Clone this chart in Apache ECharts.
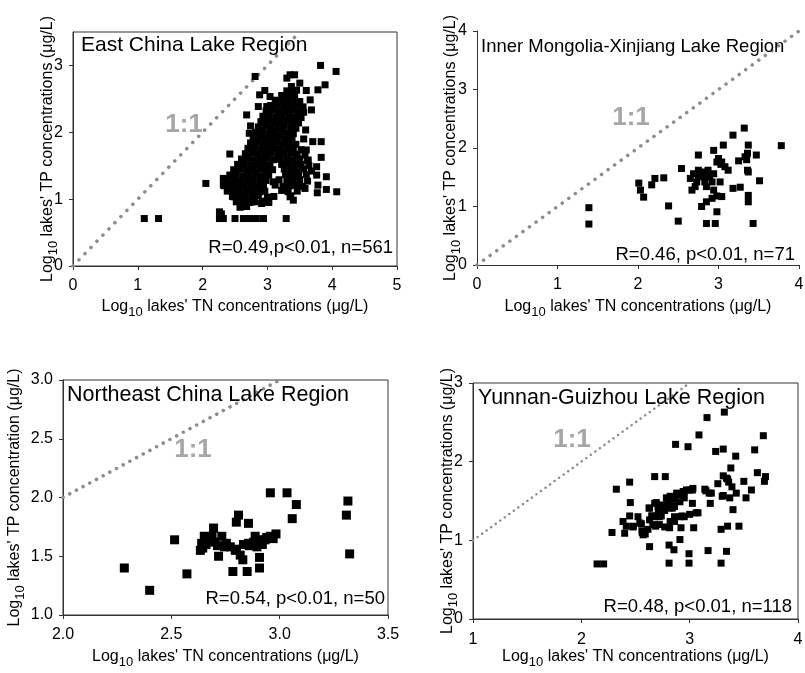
<!DOCTYPE html>
<html>
<head>
<meta charset="utf-8">
<script src="https://cdn.jsdelivr.net/npm/echarts@6/dist/echarts.min.js"></script>
<style>
  html, body { margin: 0; padding: 0; background: #fff; }
  #chart { width: 805px; height: 673px; }
</style>
</head>
<body>
<div id="chart"></div>
<script>
// [log10 TN, log10 TP]

// East China Lake Region, n=561 (many points overlap in the core)
var eastPts = [
  [1.10,0.71],[1.32,0.71],[2.05,1.235],[2.26,0.81],[2.26,0.71],[2.32,0.71],[2.50,0.71],[2.63,0.71],
  [2.73,0.71],[2.83,0.71],[2.94,0.71],[3.29,0.71],[2.42,1.675],[2.32,1.31],[2.32,1.21],[2.68,2.26],
  [2.81,2.835],[2.88,2.56],[2.96,2.625],[3.04,2.535],[2.86,2.385],[2.99,2.385],[2.74,2.095],[2.72,1.985],
  [3.30,2.81],[3.42,2.86],[3.35,2.86],[3.50,2.735],[3.37,2.685],[3.60,2.625],[3.82,3.0],[4.06,2.91],
  [3.89,2.71],[3.78,2.635],[3.66,2.485],[3.68,2.335],[3.59,2.035],[3.70,1.86],[3.83,1.86],[3.60,1.735],
  [3.83,1.625],[3.76,1.485],[3.63,1.585],[3.76,1.36],[3.91,1.335],[3.78,1.21],[3.77,1.095],[3.91,1.145],
  [4.07,1.11],[3.58,1.16],[3.35,1.21],[3.35,1.035],[3.40,0.985],[3.09,1.26],[3.02,0.96],[2.91,0.935],
  [2.76,0.96],[2.58,0.885],[2.48,1.035],[2.40,1.135],[2.29,0.78],
  [3.30,2.62],[3.38,2.60],[3.45,2.63],
  [3.22,2.55],[3.32,2.54],[3.42,2.56],
  [3.12,2.48],[3.22,2.47],[3.32,2.49],[3.42,2.48],[3.50,2.46],
  [3.05,2.40],[3.15,2.41],[3.25,2.39],[3.35,2.40],[3.45,2.41],[3.55,2.38],
  [2.98,2.32],[3.08,2.33],[3.18,2.31],[3.28,2.32],[3.38,2.33],[3.48,2.31],[3.56,2.30],
  [2.93,2.24],[3.03,2.25],[3.13,2.23],[3.23,2.24],[3.33,2.25],[3.43,2.23],[3.52,2.22],
  [2.90,2.16],[3.00,2.17],[3.10,2.15],[3.20,2.16],[3.30,2.17],[3.40,2.15],[3.48,2.14],
  [2.86,2.08],[2.96,2.09],[3.06,2.07],[3.16,2.08],[3.26,2.09],[3.36,2.07],[3.44,2.06],
  [2.82,2.00],[2.92,2.01],[3.02,1.99],[3.12,2.00],[3.22,2.01],[3.32,1.99],[3.40,1.98],
  [2.78,1.92],[2.88,1.93],[2.98,1.91],[3.08,1.92],[3.18,1.93],[3.28,1.91],[3.38,1.92],[3.56,1.90],
  [2.74,1.84],[2.84,1.85],[2.94,1.83],[3.04,1.84],[3.14,1.85],[3.24,1.83],[3.34,1.84],[3.44,1.82],
  [2.70,1.76],[2.80,1.77],[2.90,1.75],[3.00,1.76],[3.10,1.77],[3.20,1.75],[3.30,1.76],[3.40,1.77],[3.52,1.74],
  [2.66,1.68],[2.76,1.69],[2.86,1.67],[2.96,1.68],[3.06,1.69],[3.16,1.67],[3.26,1.68],[3.36,1.69],[3.46,1.67],[3.58,1.66],
  [2.60,1.60],[2.70,1.61],[2.80,1.59],[2.90,1.60],[3.00,1.61],[3.10,1.59],[3.20,1.60],[3.30,1.61],[3.40,1.59],[3.50,1.60],[3.62,1.58],
  [2.54,1.52],[2.64,1.53],[2.74,1.51],[2.84,1.52],[2.94,1.53],[3.04,1.51],[3.22,1.52],[3.32,1.53],[3.42,1.51],[3.52,1.52],[3.64,1.50],
  [2.48,1.44],[2.58,1.45],[2.68,1.43],[2.78,1.44],[2.88,1.45],[2.98,1.43],[3.08,1.44],[3.26,1.45],[3.36,1.43],[3.46,1.44],[3.56,1.45],[3.68,1.42],
  [2.42,1.36],[2.52,1.37],[2.62,1.35],[2.72,1.36],[2.82,1.37],[2.92,1.35],[3.02,1.36],[3.28,1.37],[3.38,1.35],[3.48,1.36],[3.60,1.37],
  [2.38,1.28],[2.48,1.29],[2.58,1.27],[2.68,1.28],[2.78,1.29],[2.88,1.27],[2.98,1.28],[3.18,1.29],[3.30,1.27],[3.40,1.28],[3.50,1.29],[3.62,1.27],
  [2.34,1.20],[2.44,1.21],[2.54,1.19],[2.64,1.20],[2.74,1.21],[2.84,1.19],[2.94,1.20],[3.12,1.21],[3.24,1.19],[3.34,1.20],[3.44,1.21],[3.54,1.19],
  [2.38,1.12],[2.48,1.13],[2.58,1.11],[2.68,1.12],[2.78,1.13],[2.88,1.11],[2.96,1.12],[3.22,1.13],[3.32,1.11],[3.46,1.12],
  [2.46,1.04],[2.56,1.05],[2.66,1.03],[2.76,1.04],[2.86,1.05],[3.00,1.03],[3.10,1.04],[3.36,1.05],
  [2.52,0.96],[2.62,0.97],[2.72,0.95],[2.80,0.96],[2.92,0.97],[3.02,0.95],
  [2.58,0.88],[2.68,0.89]
];

// Inner Mongolia-Xinjiang Lake Region, n=71
var mongoliaPts = [
  [1.39,0.98],[1.39,0.70],[2.01,1.40],[2.03,1.28],[2.07,1.16],[2.17,1.37],[2.21,1.48],[2.32,1.49],
  [2.38,1.01],[2.50,0.75],[2.54,1.65],[2.65,1.48],[2.69,1.56],[2.75,1.62],[2.81,1.59],[2.87,1.62],
  [2.89,1.51],[2.92,1.42],[2.85,1.34],[2.71,1.34],[2.67,1.28],[2.94,1.28],[2.98,1.18],[2.92,1.14],
  [2.85,1.08],[2.79,1.00],[3.02,1.42],[3.04,1.17],[2.75,1.51],[2.81,1.51],[2.73,1.42],[2.83,1.42],
  [2.94,1.56],[2.75,1.88],[2.94,1.96],[3.06,2.05],[3.18,2.22],[3.32,2.34],[3.37,2.05],[3.36,1.91],
  [3.47,1.88],[3.33,1.85],[3.25,1.78],[3.37,1.59],[3.51,1.44],[3.18,1.31],[3.27,1.33],[3.37,1.19],
  [3.37,1.08],[3.43,0.71],[2.98,0.91],[2.85,0.71],[2.96,0.71],[3.78,2.04],[2.98,1.76],[3.04,1.76],
  [3.08,1.68],[3.12,1.62],[3.00,1.82],[3.03,1.72],[3.36,1.62],[3.35,1.80]
];

// Northeast China Lake Region, n=50
var northeastPts = [
  [2.283,1.40],[2.40,1.21],[2.515,1.64],[2.572,1.35],[2.634,1.55],[2.64,1.61],[2.652,1.67],[2.66,1.60],
  [2.688,1.67],[2.695,1.74],[2.713,1.59],[2.718,1.50],[2.733,1.67],[2.754,1.61],[2.772,1.58],[2.784,1.37],
  [2.795,1.55],[2.80,1.79],[2.81,1.85],[2.818,1.51],[2.83,1.47],[2.833,1.60],[2.85,1.37],[2.856,1.78],
  [2.856,1.61],[2.88,1.62],[2.887,1.67],[2.895,1.58],[2.907,1.49],[2.907,1.40],[2.91,1.64],[2.92,1.60],
  [2.933,1.64],[2.957,1.67],[2.983,1.69],[2.957,2.04],[3.034,2.04],[3.077,1.94],[3.058,1.82],[3.315,1.97],
  [3.308,1.85],[3.323,1.52],[2.645,1.57],[2.676,1.64],[2.70,1.62],[2.745,1.58],[2.86,1.59],[2.94,1.66],
  [2.97,1.65],[2.80,1.56]
];

// Yunnan-Guizhou Lake Region, n=118
var yunnanPts = [
  [2.145,0.70],[2.206,0.70],[2.283,1.10],[2.323,1.65],[2.40,1.09],[2.385,1.24],[2.446,1.74],[2.452,1.48],
  [2.446,1.31],[2.477,1.17],[2.415,1.18],[2.523,1.30],[2.554,1.21],[2.57,1.07],[2.563,1.10],[2.615,1.14],
  [2.63,0.92],[2.625,1.41],[2.655,1.31],[2.677,1.81],[2.686,1.18],[2.692,1.48],[2.71,1.37],[2.738,1.31],
  [2.76,1.44],[2.775,1.81],[2.785,1.54],[2.81,0.71],[2.81,0.94],[2.815,1.16],[2.84,1.41],[2.86,1.52],
  [2.855,0.88],[2.86,1.24],[2.87,2.22],[2.89,1.58],[2.91,1.01],[2.92,1.16],[2.93,1.31],[2.95,1.62],
  [2.985,2.19],[2.994,0.83],[2.994,0.71],[3.0,1.33],[3.025,1.64],[3.025,1.47],[3.037,1.16],[3.077,1.35],
  [3.086,2.34],[3.14,1.65],[3.16,2.56],[3.17,0.87],[3.19,1.47],[3.20,1.60],[3.24,2.13],[3.26,1.72],
  [3.29,0.71],[3.29,1.14],[3.31,1.57],[3.31,2.16],[3.32,2.63],[3.31,1.82],[3.34,0.86],[3.34,1.79],
  [3.35,1.18],[3.36,1.74],[3.37,1.54],[3.38,1.92],[3.39,1.68],[3.40,1.39],[3.425,2.07],[3.43,1.60],
  [3.455,1.18],[3.50,1.75],[3.52,1.54],[3.57,1.64],[3.60,2.15],[3.625,1.86],[3.68,2.33],[3.69,1.75],
  [3.70,1.81],
  [2.63,1.41],[2.677,1.47],[2.709,1.43],[2.72,1.35],[2.75,1.45],[2.80,1.49],[2.82,1.56],[2.85,1.54],
  [2.88,1.60],[2.91,1.58],[2.94,1.62],[2.97,1.64],[3.00,1.64],[3.03,1.66],[2.95,1.54],[2.91,1.49],
  [2.86,1.43],[2.82,1.41],[2.77,1.38],[2.72,1.30],[2.677,1.30],[2.65,1.31],[2.63,1.26],[2.66,1.20],
  [2.72,1.20],[2.77,1.17],[2.82,1.24],[2.86,1.30],[2.91,1.30],[2.95,1.30],[3.06,1.35],
  [2.48,1.18],[2.54,1.22],[2.56,1.12],[2.59,1.08],[3.15,1.63],[3.18,1.60],[3.30,1.56],[3.35,1.78]
];

// 1:1 lines, clipped to each panel's range
var eastLine = [[0, 0], [3.5, 3.5]];
var mongoliaLine = [[0, 0], [4, 4]];
var northeastLine = [[2, 2], [3, 3]];
var yunnanLine = [[1, 1], [3, 3]];

var panelNames = ['East China Lake Region', 'Inner Mongolia-Xinjiang Lake Region',
                  'Northeast China Lake Region', 'Yunnan-Guizhou Lake Region'];
var statTexts = ['R=0.49,p<0.01, n=561', 'R=0.46, p<0.01, n=71',
                 'R=0.54, p<0.01, n=50', 'R=0.48, p<0.01, n=118'];

var FONT = "'Liberation Sans', Arial, sans-serif";
var xName = "Log{sub|10} lakes' TN concentrations (μg/L)";
var yName = "Log{sub|10} lakes' TP concentrations (μg/L)";
var yNameNE = "Log{sub|10} lakes' TP concentration (μg/L)";

var nameStyle = {
  fontSize: 16, fontFamily: FONT, color: '#000', lineHeight: 24,
  rich: { sub: { fontSize: 13, lineHeight: 13, verticalAlign: 'bottom', fontFamily: FONT, color: '#000' } }
};

function xAxis(i, min, max, interval, gap, margin, fmt) {
  return {
    type: 'value', gridIndex: i, min: min, max: max, interval: interval,
    name: xName, nameLocation: 'middle', nameGap: gap, nameTextStyle: nameStyle, nameMoveOverlap: false,
    axisLine: { show: true, onZero: false, lineStyle: { color: '#333', width: 1 } },
    axisTick: { show: true, length: 4, lineStyle: { color: '#333' } },
    axisLabel: { fontSize: 16, fontFamily: FONT, color: '#000', margin: margin, formatter: fmt },
    splitLine: { show: false }
  };
}

function yAxis(i, min, max, interval, gap, name, fmt, hideMax) {
  return {
    type: 'value', gridIndex: i, min: min, max: max, interval: interval,
    name: name, nameLocation: 'middle', nameGap: gap, nameTextStyle: nameStyle, nameMoveOverlap: false,
    axisLine: { show: true, onZero: false, lineStyle: { color: '#333', width: 1 } },
    axisTick: { show: true, length: 4, lineStyle: { color: '#333' } },
    axisLabel: { fontSize: 16, fontFamily: FONT, color: '#000', margin: 10, formatter: fmt,
                 showMaxLabel: hideMax ? false : null },
    splitLine: { show: false }
  };
}

function pts(i, data, size) {
  return {
    type: 'scatter', xAxisIndex: i, yAxisIndex: i, data: data,
    symbol: 'rect', symbolSize: size, itemStyle: { color: '#000', opacity: 1 }, z: 3
  };
}

function oneToOne(i, data, width, gap) {
  return {
    type: 'line', xAxisIndex: i, yAxisIndex: i, data: data, symbol: 'none', z: 2,
    lineStyle: { color: '#8c8c8c', width: width, type: [0.1, gap], cap: 'round' }
  };
}

function label(x, y, text, size, align, color, weight) {
  return {
    type: 'text', x: x, y: y, z: 10,
    style: {
      text: text, fill: color || '#000', font: (weight || 'normal') + ' ' + size + 'px ' + FONT,
      align: align, verticalAlign: 'middle', textAlign: align, textVerticalAlign: 'middle'
    }
  };
}

var fmt1 = function (v) { return v.toFixed(1); };
var fmt0 = function (v) { return String(v); };

var chart = echarts.init(document.getElementById('chart'), null, { renderer: 'canvas' });
chart.setOption({
  animation: false,
  backgroundColor: '#fff',
  grid: [
    { left: 73, top: 32, width: 324, height: 234, show: true, borderColor: '#333', borderWidth: 1, containLabel: false, outerBoundsMode: 'none' },
    { left: 477, top: 31, width: 322, height: 234, show: false, containLabel: false, outerBoundsMode: 'none' },
    { left: 63, top: 380, width: 325, height: 235, show: true, borderColor: '#333', borderWidth: 1, containLabel: false, outerBoundsMode: 'none' },
    { left: 473, top: 383, width: 325, height: 236, show: true, borderColor: '#333', borderWidth: 1, containLabel: false, outerBoundsMode: 'none' }
  ],
  xAxis: [
    xAxis(0, 0, 5, 1, 29, 12, fmt0),
    xAxis(1, 0, 4, 1, 30, 12, fmt0),
    xAxis(2, 2, 3.5, 0.5, 30, 12, fmt1),
    xAxis(3, 1, 4, 1, 26, 13, fmt0)
  ],
  yAxis: [
    yAxis(0, 0, 3.5, 1, 13, yName, fmt0, true),
    yAxis(1, 0, 4, 1, 14, yName, fmt0, false),
    yAxis(2, 1, 3, 0.5, 36, yNameNE, fmt1, false),
    yAxis(3, 0, 3, 1, 13, yName, fmt0, false)
  ],
  series: [
    oneToOne(0, eastLine, 3.5, 8.5),
    oneToOne(1, mongoliaLine, 3.5, 8),
    oneToOne(2, northeastLine, 3.5, 7.5),
    oneToOne(3, yunnanLine, 2.5, 5.5),
    pts(0, eastPts, 7),
    pts(1, mongoliaPts, 7),
    pts(2, northeastPts, 9),
    pts(3, yunnanPts, 7)
  ],
  graphic: [
    label(81, 45, panelNames[0], 21, 'left'),
    label(481, 47, panelNames[1], 18.5, 'left'),
    label(67, 395, panelNames[2], 21.5, 'left'),
    label(478, 398, panelNames[3], 21.5, 'left'),
    label(393, 248, statTexts[0], 18.5, 'right'),
    label(795, 255, statTexts[1], 18.5, 'right'),
    label(385, 599, statTexts[2], 18.5, 'right'),
    label(792, 607, statTexts[3], 18.5, 'right'),
    label(184, 125, '1:1', 26, 'center', '#a6a6a6', 'bold'),
    label(631, 118, '1:1', 26, 'center', '#a6a6a6', 'bold'),
    label(193, 450, '1:1', 26, 'center', '#a6a6a6', 'bold'),
    label(572, 440, '1:1', 26, 'center', '#a6a6a6', 'bold')
  ]
});
</script>
</body>
</html>
